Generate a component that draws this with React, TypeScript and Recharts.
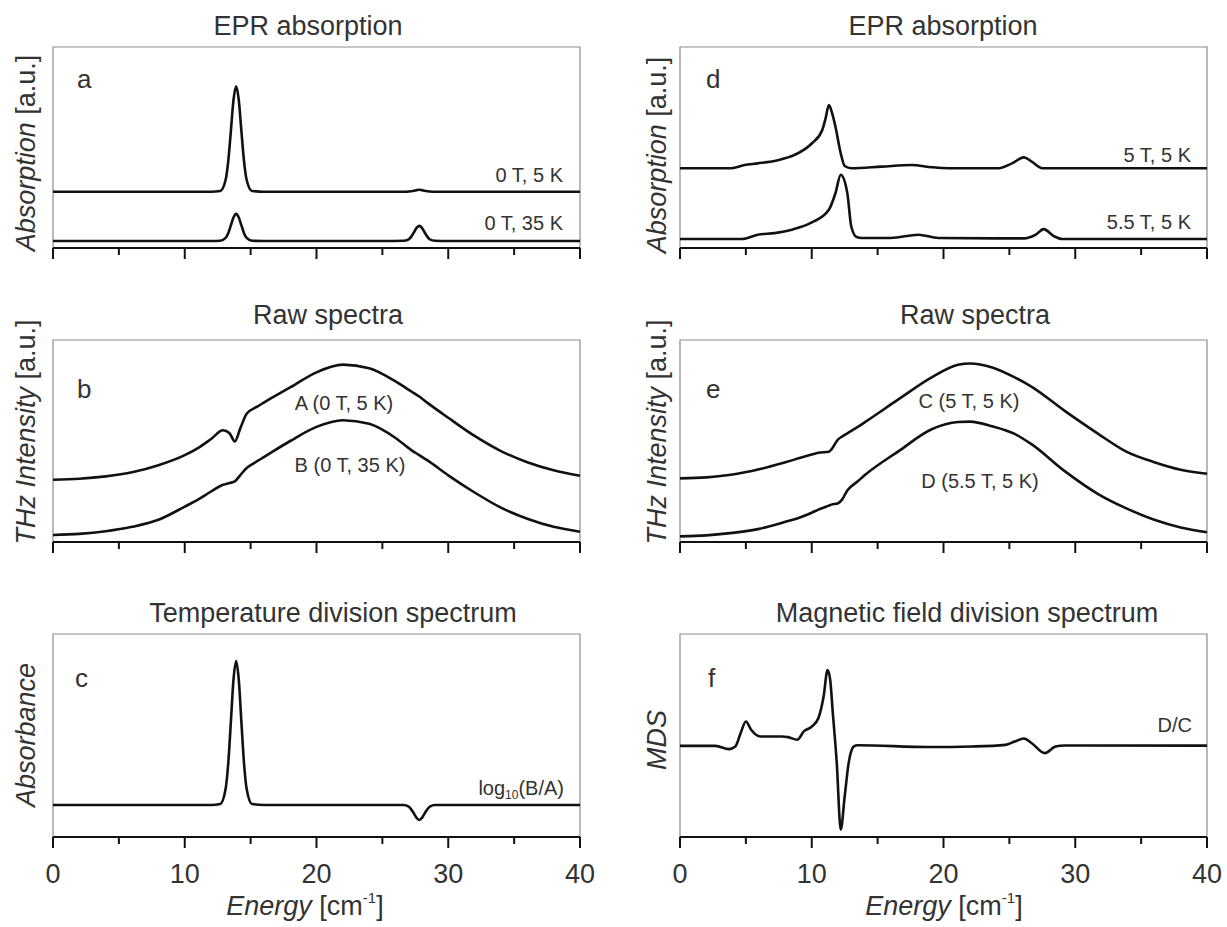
import { LineChart, Line, XAxis, YAxis, ReferenceArea } from 'recharts';

// a: EPR absorption at 0 T
const energyA = [0, 5, 10, 12, 12.7, 13.1, 13.3, 13.5, 13.7, 13.9, 14.1, 14.3, 14.5, 14.7, 15.1, 16, 20, 25, 26.6, 27.0, 27.4, 27.6, 27.8, 28.0, 28.2, 28.6, 29, 30, 35, 40];
const abs0T5K = [28, 28, 28, 28, 28.4, 33.8, 43.1, 58.2, 73.7, 80.5, 73.7, 58.2, 43.1, 33.8, 28.4, 28, 28, 28, 28, 28.1, 28.5, 28.8, 29, 28.8, 28.5, 28.1, 28, 28, 28, 28];
const abs0T35K = [3.5, 3.5, 3.5, 3.5, 3.6, 5.0, 7.4, 11.3, 15.2, 17, 15.2, 11.3, 7.4, 5.0, 3.6, 3.5, 3.5, 3.5, 3.6, 4.3, 7.8, 10.0, 11, 10.0, 7.8, 4.3, 3.6, 3.5, 3.5, 3.5];

// b: raw THz spectra at 0 T
const energyB = [0, 2, 4, 6, 8, 10, 11, 12, 12.9, 13.4, 13.8, 14.2, 14.7, 15.5, 16, 18, 20, 22, 24, 26, 27.2, 27.8, 28.4, 30, 32, 34, 36, 38, 40];
const rawA = [30.8, 31.3, 32.5, 34.5, 38, 43, 46.5, 51, 55.3, 53.8, 49.8, 56, 63.5, 67, 69, 76.5, 84, 87.8, 86, 79.5, 74.5, 72, 69, 61.5, 52.5, 45, 39.5, 35.5, 32.8];
const rawB = [3.5, 4.0, 5.3, 7.5, 11, 17.5, 21, 25, 28.3, 29.2, 30, 33, 36.6, 40, 42, 50, 57, 60.3, 58.5, 51.5, 45.5, 43, 40.5, 33, 24.5, 17, 11.5, 7.5, 5.1];

// c: temperature division spectrum
const energyC = energyA;
const logBA = [15.8, 15.8, 15.8, 15.8, 16.3, 23.6, 36.2, 56.6, 77.5, 86.7, 77.5, 56.6, 36.2, 23.6, 16.3, 15.8, 15.8, 15.8, 15.8, 15.0, 11.5, 9.4, 8.4, 9.4, 11.5, 15.0, 15.8, 15.8, 15.8, 15.8];

// d: EPR absorption in field
const energyD5T = [0, 3.9, 4.9, 5.9, 7.5, 8.7, 10.0, 10.8, 11.05, 11.3, 11.55, 11.8, 12.2, 12.5, 13.0, 15.3, 17.6, 19.1, 20.4, 24.2, 25.2, 26.1, 26.7, 27.5, 30, 40];
const abs5T = [39.7, 39.7, 41.3, 42.1, 43.8, 46.3, 52, 58.7, 64.5, 71.1, 67, 60.3, 47.1, 40.8, 39.7, 40.5, 41.3, 40.2, 39.7, 39.7, 42.1, 45.1, 43, 39.7, 39.7, 39.7];
const energyD55T = [0, 4.7, 5.9, 7.2, 8.5, 10.0, 11.3, 11.8, 12.2, 12.7, 13.0, 13.4, 13.8, 16, 18.1, 19.6, 24, 26.2, 27.0, 27.6, 28.4, 29.0, 35, 40];
const abs55T = [4.5, 4.5, 6.6, 7.4, 9.1, 12.7, 19, 27.3, 36.4, 27.3, 10.7, 5.5, 5.0, 5.0, 6.6, 5.0, 4.8, 4.8, 6.6, 9.4, 5.8, 4.5, 4.5, 4.5];

// e: raw THz spectra in field
const energyE = [0, 2, 4, 6, 8, 9, 10, 10.5, 11.3, 11.5, 12, 12.3, 12.7, 13.5, 14.1, 16.6, 19.1, 21.1, 22, 23.7, 25.4, 26.7, 29.2, 31.8, 33.8, 36, 38, 40];
const rawC = [31.5, 32, 33.4, 36, 39.5, 41.4, 43.3, 44.2, 44.7, 45.9, 50.8, 52.2, 53.8, 57, 59.6, 70.7, 81.5, 87.7, 88.4, 86.4, 81.5, 76.8, 64.9, 53.3, 45, 39.5, 35.8, 33.8];
const rawD = [2.8, 3.3, 4.5, 6.5, 10, 11.9, 14.5, 16, 18, 18.5, 19.2, 21, 25.5, 30.1, 33.5, 45, 55.8, 59.4, 59.6, 57.3, 53.5, 48.3, 35.1, 23.5, 16.9, 11, 7.2, 4.8];

// f: magnetic field division spectrum
const energyF = [0, 2.7, 3.7, 4.2, 4.6, 5.0, 5.4, 6.1, 7.7, 8.2, 8.9, 9.4, 10.0, 10.5, 10.9, 11.2, 11.4, 11.6, 11.9, 12.2, 12.5, 12.8, 13.2, 13.5, 18.9, 22.2, 24.7, 25.4, 26.1, 26.7, 27.7, 28.5, 29.2, 40];
const mdsDC = [44.9, 44.9, 43.3, 44.6, 51.1, 56.9, 52.8, 49.5, 49.5, 49.2, 47.9, 52, 54.4, 58.5, 69.2, 82.3, 77.4, 61, 36.4, 3.6, 20, 36.4, 44.6, 45.2, 44.3, 44.6, 45.4, 47, 48.5, 46.2, 41.3, 44.6, 45.1, 45];

const energyTicks = [0, 5, 10, 15, 20, 25, 30, 35, 40];

const FONT = '"Liberation Sans", Arial, Helvetica, sans-serif';
const INK = '#111';
const TEXT = '#333';

function toRows(xs: number[], ys: number[]) {
  return xs.map((e, i) => ({ e, v: ys[i] }));
}

function EnergyTick({ x, y, payload, showLabel }: any) {
  const major = payload.value % 10 === 0;
  return (
    <g>
      <line x1={x} x2={x} y1={y} y2={y + (major ? 11 : 7)} stroke={INK} strokeWidth={2} />
      {showLabel && major && (
        <text x={x} y={y + 46} textAnchor="middle" fontFamily={FONT} fontSize={27} fill={TEXT}>
          {payload.value}
        </text>
      )}
    </g>
  );
}

interface Series {
  x: number[];
  y: number[];
}

function Panel({ left, top, width, height, series, showLabels = false }: {
  left: number; top: number; width: number; height: number; series: Series[]; showLabels?: boolean;
}) {
  const pad = 20;
  const below = 70;
  return (
    <div style={{ position: 'absolute', left: left - pad, top: top - pad }}>
      <LineChart width={width + 2 * pad} height={height + pad + below} margin={{ top: pad, right: pad, bottom: 0, left: pad }}>
        <XAxis
          type="number"
          dataKey="e"
          domain={[0, 40]}
          ticks={energyTicks}
          interval={0}
          height={below}
          tickSize={0}
          tickMargin={0}
          tickLine={false}
          axisLine={{ stroke: INK, strokeWidth: 2 }}
          tick={(p: any) => <EnergyTick {...p} showLabel={showLabels} />}
        />
        <YAxis hide type="number" domain={[0, 100]} />
        <ReferenceArea x1={0} x2={40} y1={0} y2={100} fill="none" stroke="#8c8c8c" strokeWidth={1.2} />
        {series.map((s, i) => (
          <Line
            key={i}
            data={toRows(s.x, s.y)}
            dataKey="v"
            type="monotone"
            stroke={INK}
            strokeWidth={2.6}
            dot={false}
            activeDot={false}
            isAnimationActive={false}
          />
        ))}
      </LineChart>
    </div>
  );
}

const L = { x: 53, w: 527 };
const R = { x: 680, w: 527 };
const ROWS = [
  { top: 47, h: 201 },
  { top: 340, h: 202 },
  { top: 634, h: 203 },
];

function Labels() {
  const t = { fontFamily: FONT, fill: TEXT };
  const yLabel = (cx: number, cy: number, italic: string, rest: string) => (
    <text x={cx} y={cy} transform={`rotate(-90 ${cx} ${cy})`} textAnchor="middle" dominantBaseline="central" fontSize={27} {...t}>
      <tspan fontStyle="italic">{italic}</tspan>
      {rest}
    </text>
  );
  const energy = (cx: number) => (
    <text x={cx} y={915} textAnchor="middle" fontSize={27} {...t}>
      <tspan fontStyle="italic">Energy</tspan> [cm
      <tspan fontSize={15} dy={-12}>-1</tspan>
      <tspan dy={12}>]</tspan>
    </text>
  );
  return (
    <svg width={1227} height={927} style={{ position: 'absolute', left: 0, top: 0, pointerEvents: 'none' }}>
      <g fontSize={27} textAnchor="middle" {...t}>
        <text x={308} y={35}>EPR absorption</text>
        <text x={943} y={35}>EPR absorption</text>
        <text x={328} y={324}>Raw spectra</text>
        <text x={975} y={324}>Raw spectra</text>
        <text x={333} y={622}>Temperature division spectrum</text>
        <text x={967} y={622}>Magnetic field division spectrum</text>
      </g>
      <g fontSize={26} {...t}>
        <text x={77} y={88}>a</text>
        <text x={706} y={88}>d</text>
        <text x={77} y={398}>b</text>
        <text x={706} y={398}>e</text>
        <text x={75} y={687}>c</text>
        <text x={708} y={687}>f</text>
      </g>
      <g fontSize={20} {...t}>
        <text x={563} y={182} textAnchor="end">0 T, 5 K</text>
        <text x={563} y={230} textAnchor="end">0 T, 35 K</text>
        <text x={1191} y={162} textAnchor="end">5 T, 5 K</text>
        <text x={1191} y={229} textAnchor="end">5.5 T, 5 K</text>
        <text x={344} y={410} textAnchor="middle">A (0 T, 5 K)</text>
        <text x={350} y={472} textAnchor="middle">B (0 T, 35 K)</text>
        <text x={969} y={408} textAnchor="middle">C (5 T, 5 K)</text>
        <text x={980} y={488} textAnchor="middle">D (5.5 T, 5 K)</text>
        <text x={564} y={795} textAnchor="end">
          log<tspan fontSize={12} dy={4}>10</tspan>
          <tspan dy={-4}>(B/A)</tspan>
        </text>
        <text x={1192} y={732} textAnchor="end">D/C</text>
      </g>
      {yLabel(26, 153, 'Absorption', ' [a.u.]')}
      {yLabel(26, 432, 'THz Intensity', ' [a.u.]')}
      {yLabel(26, 735, 'Absorbance', '')}
      {yLabel(657, 155, 'Absorption', ' [a.u.]')}
      {yLabel(657, 432, 'THz Intensity', ' [a.u.]')}
      {yLabel(657, 740, 'MDS', '')}
      {energy(305)}
      {energy(944)}
    </svg>
  );
}

export default function App() {
  return (
    <div style={{ position: 'absolute', left: 0, top: 0, width: 1227, height: 927, background: '#fff' }}>
      <Panel left={L.x} top={ROWS[0].top} width={L.w} height={ROWS[0].h} series={[{ x: energyA, y: abs0T5K }, { x: energyA, y: abs0T35K }]} />
      <Panel left={L.x} top={ROWS[1].top} width={L.w} height={ROWS[1].h} series={[{ x: energyB, y: rawA }, { x: energyB, y: rawB }]} />
      <Panel left={L.x} top={ROWS[2].top} width={L.w} height={ROWS[2].h} series={[{ x: energyC, y: logBA }]} showLabels />
      <Panel left={R.x} top={ROWS[0].top} width={R.w} height={ROWS[0].h} series={[{ x: energyD5T, y: abs5T }, { x: energyD55T, y: abs55T }]} />
      <Panel left={R.x} top={ROWS[1].top} width={R.w} height={ROWS[1].h} series={[{ x: energyE, y: rawC }, { x: energyE, y: rawD }]} />
      <Panel left={R.x} top={ROWS[2].top} width={R.w} height={ROWS[2].h} series={[{ x: energyF, y: mdsDC }]} showLabels />
      <Labels />
    </div>
  );
}
